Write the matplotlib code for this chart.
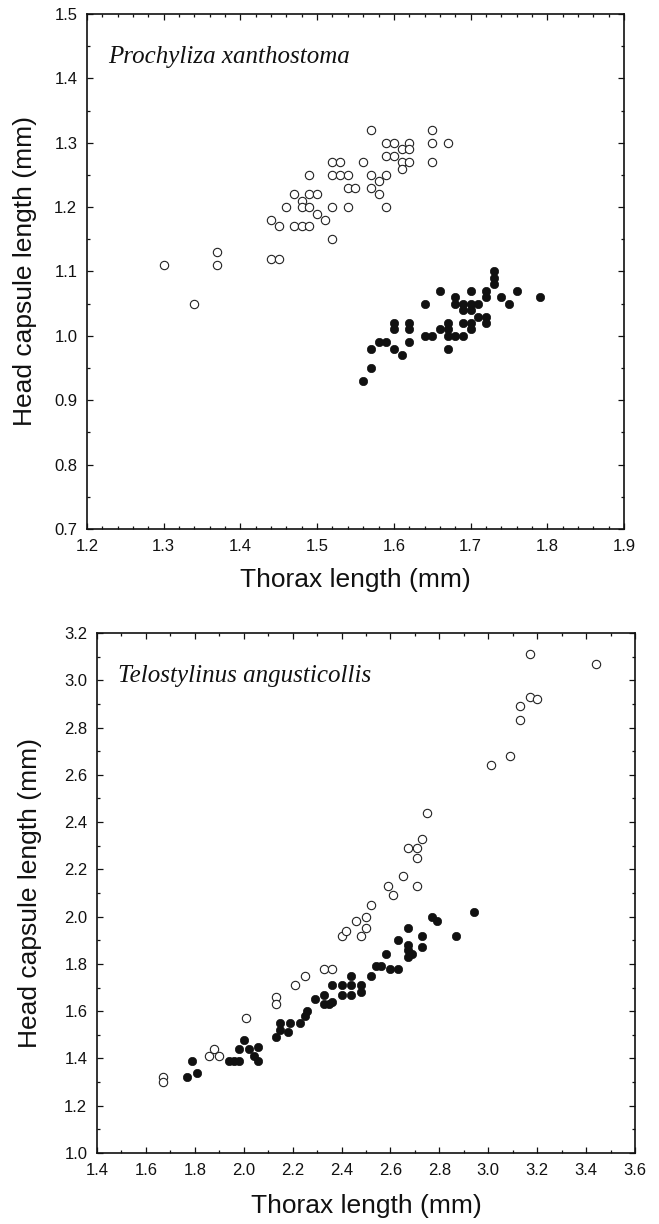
import matplotlib
matplotlib.use("Agg")
import matplotlib.pyplot as plt
from matplotlib.ticker import MultipleLocator, FormatStrFormatter

plt.rcParams['font.family'] = ['Liberation Sans', 'DejaVu Sans']

# ---- Panel 1: Prochyliza xanthostoma ----
p_open_x = [1.30, 1.34, 1.37, 1.37, 1.44, 1.45, 1.44, 1.45, 1.47, 1.48, 1.49, 1.46, 1.47, 1.48,
            1.48, 1.49, 1.49, 1.50, 1.50, 1.51, 1.49, 1.52, 1.52, 1.52, 1.53, 1.52, 1.53, 1.54,
            1.54, 1.55, 1.54, 1.56, 1.57, 1.57, 1.58, 1.57, 1.58, 1.59, 1.59, 1.59, 1.60, 1.61,
            1.62, 1.59, 1.60, 1.62, 1.61, 1.62, 1.61, 1.65, 1.65, 1.67, 1.65]
p_open_y = [1.11, 1.05, 1.13, 1.11, 1.12, 1.12, 1.18, 1.17, 1.17, 1.17, 1.17, 1.20, 1.22, 1.21,
            1.20, 1.20, 1.22, 1.22, 1.19, 1.18, 1.25, 1.20, 1.15, 1.27, 1.27, 1.25, 1.25, 1.25,
            1.23, 1.23, 1.20, 1.27, 1.32, 1.25, 1.24, 1.23, 1.22, 1.25, 1.20, 1.30, 1.30, 1.29,
            1.30, 1.28, 1.28, 1.29, 1.27, 1.27, 1.26, 1.32, 1.30, 1.30, 1.27]
p_fill_x = [1.56, 1.57, 1.57, 1.58, 1.59, 1.60, 1.61, 1.60, 1.60, 1.62, 1.62, 1.62, 1.64, 1.65,
            1.64, 1.66, 1.66, 1.67, 1.67, 1.67, 1.68, 1.69, 1.67, 1.68, 1.68, 1.69, 1.70, 1.71,
            1.69, 1.70, 1.70, 1.71, 1.72, 1.69, 1.70, 1.70, 1.72, 1.72, 1.72, 1.73, 1.73, 1.73,
            1.74, 1.75, 1.76, 1.79]
p_fill_y = [0.93, 0.95, 0.98, 0.99, 0.99, 0.98, 0.97, 1.02, 1.01, 1.02, 1.01, 0.99, 1.00, 1.00,
            1.05, 1.07, 1.01, 1.02, 1.01, 1.00, 1.00, 1.00, 0.98, 1.06, 1.05, 1.05, 1.05, 1.05,
            1.04, 1.04, 1.07, 1.03, 1.03, 1.02, 1.02, 1.01, 1.02, 1.07, 1.06, 1.10, 1.09, 1.08,
            1.06, 1.05, 1.07, 1.06]

# ---- Panel 2: Telostylinus angusticollis ----
t_open_x = [1.67, 1.67, 1.86, 1.88, 1.90, 2.01, 2.13, 2.13, 2.21, 2.25, 2.33, 2.36,
            2.40, 2.42, 2.46, 2.48, 2.50, 2.50, 2.52, 2.59, 2.61, 2.65, 2.67, 2.71, 2.71, 2.71,
            2.73, 2.75, 3.01, 3.09, 3.13, 3.13, 3.17, 3.17, 3.20, 3.44]
t_open_y = [1.32, 1.30, 1.41, 1.44, 1.41, 1.57, 1.66, 1.63, 1.71, 1.75, 1.78, 1.78,
            1.92, 1.94, 1.98, 1.92, 1.95, 2.00, 2.05, 2.13, 2.09, 2.17, 2.29, 2.29, 2.25, 2.13,
            2.33, 2.44, 2.64, 2.68, 2.83, 2.89, 3.11, 2.93, 2.92, 3.07]
t_fill_x = [1.77, 1.79, 1.81, 1.94, 1.96, 1.98, 1.98, 2.00, 2.02, 2.04, 2.06, 2.06,
            2.13, 2.15, 2.18, 2.15, 2.19, 2.23, 2.25, 2.26, 2.29,
            2.33, 2.33, 2.35, 2.36, 2.36, 2.40, 2.40, 2.44, 2.44, 2.44, 2.48, 2.48,
            2.52, 2.54, 2.56, 2.60, 2.63, 2.58, 2.63,
            2.67, 2.67, 2.67, 2.69, 2.67, 2.73, 2.73,
            2.77, 2.79, 2.87, 2.94]
t_fill_y = [1.32, 1.39, 1.34, 1.39, 1.39, 1.39, 1.44, 1.48, 1.44, 1.41, 1.39, 1.45,
            1.49, 1.52, 1.51, 1.55, 1.55, 1.55, 1.58, 1.60, 1.65,
            1.67, 1.63, 1.63, 1.64, 1.71, 1.71, 1.67, 1.75, 1.71, 1.67, 1.71, 1.68,
            1.75, 1.79, 1.79, 1.78, 1.78, 1.84, 1.90,
            1.95, 1.88, 1.86, 1.84, 1.83, 1.92, 1.87,
            2.00, 1.98, 1.92, 2.02]

titles = ["Prochyliza xanthostoma", "Telostylinus angusticollis"]
xlabel = "Thorax length (mm)"
ylabel = "Head capsule length (mm)"

fig = plt.figure(figsize=(6.59, 12.24), dpi=100)
ax1 = fig.add_axes([87/659, 1-529/1224, (624-87)/659, (529-14)/1224])
ax2 = fig.add_axes([97/659, 1-1153/1224, (635-97)/659, (1153-633)/1224])

ms = 36
for ax, ox, oy, fx, fy, title in [
        (ax1, p_open_x, p_open_y, p_fill_x, p_fill_y, titles[0]),
        (ax2, t_open_x, t_open_y, t_fill_x, t_fill_y, titles[1])]:
    ax.scatter(ox, oy, s=ms, facecolors='white', edgecolors='#222222', linewidths=0.8, zorder=3)
    ax.scatter(fx, fy, s=ms, facecolors='#111111', edgecolors='#111111', linewidths=0.5, zorder=3)
    ax.text(0.039, 0.905, title, transform=ax.transAxes, fontsize=18,
            family=['Liberation Serif', 'DejaVu Serif'], style='italic', color='#111111')
    ax.set_xlabel(xlabel, fontsize=19, color='#111111')
    ax.set_ylabel(ylabel, fontsize=19, color='#111111')
    for sp in ax.spines.values():
        sp.set_linewidth(1.2)
        sp.set_color('#111111')
    ax.tick_params(which='both', direction='in', top=True, right=True,
                   labelsize=12, colors='#111111', width=0.9)
    ax.tick_params(which='major', length=4, pad=7)
    ax.tick_params(which='minor', length=2)

ax1.set_xlim(1.2, 1.9)
ax1.set_ylim(0.7, 1.5)
ax1.xaxis.set_major_locator(MultipleLocator(0.1))
ax1.xaxis.set_minor_locator(MultipleLocator(0.02))
ax1.yaxis.set_major_locator(MultipleLocator(0.1))
ax1.yaxis.set_minor_locator(MultipleLocator(0.05))
ax1.xaxis.set_major_formatter(FormatStrFormatter('%.1f'))
ax1.yaxis.set_major_formatter(FormatStrFormatter('%.1f'))
ax1.xaxis.labelpad = 10
ax1.yaxis.set_label_coords(-0.093, 0.5)

ax2.set_xlim(1.4, 3.6)
ax2.set_ylim(1.0, 3.2)
ax2.xaxis.set_major_locator(MultipleLocator(0.2))
ax2.xaxis.set_minor_locator(MultipleLocator(0.1))
ax2.yaxis.set_major_locator(MultipleLocator(0.2))
ax2.yaxis.set_minor_locator(MultipleLocator(0.1))
ax2.xaxis.set_major_formatter(FormatStrFormatter('%.1f'))
ax2.yaxis.set_major_formatter(FormatStrFormatter('%.1f'))
ax2.xaxis.labelpad = 12
ax2.yaxis.set_label_coords(-0.102, 0.5)

fig.savefig("out.png", dpi=100)
